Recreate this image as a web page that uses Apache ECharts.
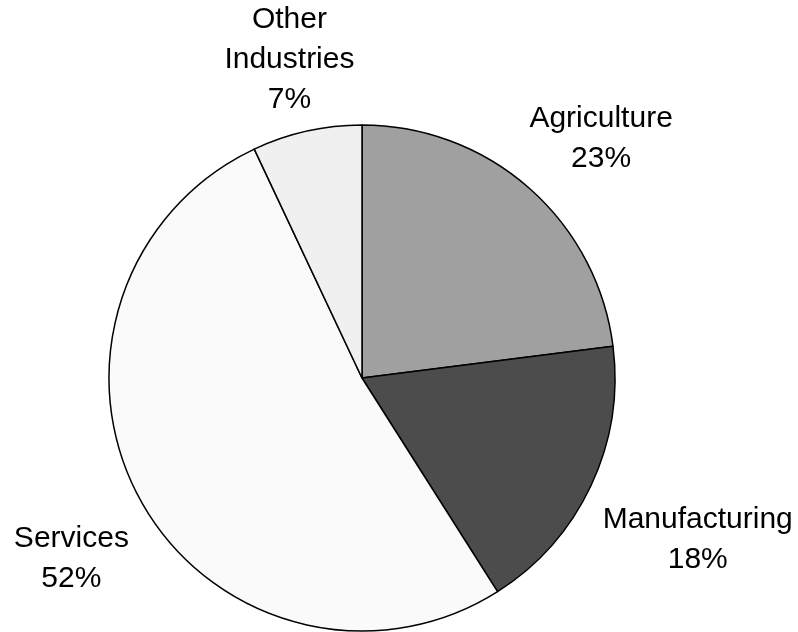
<!DOCTYPE html>
<html>
<head>
<meta charset="UTF-8"/>
<title>Pie</title>
<script src="https://cdn.jsdelivr.net/npm/echarts@6/dist/echarts.min.js"></script>
<style>
  html, body { margin: 0; padding: 0; background: #fff; }
  #chart { width: 798px; height: 632px; }
</style>
</head>
<body>
<div id="chart"></div>
<script>
var categories = ['Agriculture', 'Manufacturing', 'Services', 'Other Industries'];
var labelNames = ['Agriculture', 'Manufacturing', 'Services', 'Other\nIndustries'];
var shares = [23, 18, 52, 7];
var sliceColors = ['#a0a0a0', '#4c4c4c', '#fafafa', '#f0f0f0'];

var cx = 362, cy = 378, R = 253, gap = 13, topPad = 40;
var total = shares.reduce(function (a, b) { return a + b; }, 0);

// mid angle of each slice, clockwise from 12 o'clock
var midAngles = [];
var acc = 0;
for (var i = 0; i < shares.length; i++) {
    midAngles.push((acc + shares[i] / 2) / total * Math.PI * 2);
    acc += shares[i];
}

var data = [];
for (var i = 0; i < categories.length; i++) {
    data.push({
        name: categories[i],
        value: shares[i],
        itemStyle: { color: sliceColors[i] }
    });
}

var myChart = echarts.init(document.getElementById('chart'));
var option = {
    backgroundColor: '#ffffff',
    animation: false,
    series: [{
        type: 'pie',
        center: [cx, cy],
        radius: R,
        startAngle: 90,
        clockwise: true,
        data: data,
        itemStyle: { borderColor: '#000', borderWidth: 1.5 },
        label: {
            show: true,
            position: 'outside',
            formatter: function (p) {
                return labelNames[p.dataIndex] + '\n' + p.value + '%';
            },
            fontFamily: 'Liberation Sans, Arial, sans-serif',
            fontSize: 30,
            lineHeight: 40,
            color: '#000',
            align: 'center',
            overflow: 'none'
        },
        labelLine: { show: false },
        // outside-end placement: box edge touches the slice's mid ray just past the rim
        labelLayout: function (params) {
            var a = midAngles[params.dataIndex];
            var w = params.labelRect.width, h = params.labelRect.height + topPad;
            var sx = Math.sin(a), sy = -Math.cos(a);
            var m = Math.max(Math.abs(sx), Math.abs(sy));
            var ax = cx + (R + gap) * sx, ay = cy + (R + gap) * sy;
            var x = ax + sx / m * w / 2;
            var y = ay + sy / m * h / 2 + topPad / 2;
            var hh = params.labelRect.height / 2;
            if (y - hh < 0) y = hh;
            return { x: x, y: y, align: 'center', verticalAlign: 'middle' };
        },
        emphasis: { disabled: true }
    }]
};
myChart.setOption(option);
</script>
</body>
</html>
